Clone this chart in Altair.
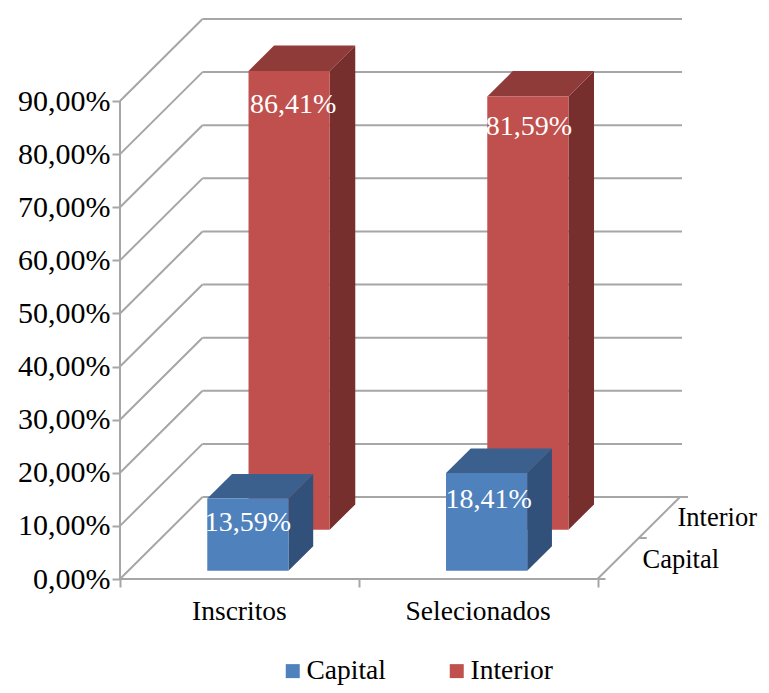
import altair as alt
import pandas as pd

categories = ["Inscritos", "Selecionados"]
series = ["Capital", "Interior"]
capital_values = [13.59, 18.41]
interior_values = [86.41, 81.59]
tick_values = [0, 10, 20, 30, 40, 50, 60, 70, 80, 90]

FONT = "Liberation Serif"
GRID = "#A6A6A6"
FRONT = {"Capital": "#4F81BD", "Interior": "#C0504D"}
TOP = {"Capital": "#3B608D", "Interior": "#8F3B39"}
SIDE = {"Capital": "#31507A", "Interior": "#772F2E"}

# pseudo-3D projection: depth 0..1 shifts both x and y
PX_PER_CAT = 238.75
PX_PER_VAL = 5.311
PLOT_W, PLOT_H = 568, 560
DX = 82.5 / PX_PER_CAT
DY = 82 / PX_PER_VAL
X_MAX = PLOT_W / PX_PER_CAT
Y_MAX = PLOT_H / PX_PER_VAL

SLOT = {"Capital": (0.10, 0.40), "Interior": (0.60, 0.91)}
BAR_LEFT = 0.331
BAR_W = 0.34
LABEL_DROP = {("Capital", 0): 4.6, ("Capital", 1): 5.0, ("Interior", 0): 6.4, ("Interior", 1): 5.7}
LABEL_SHIFT = {("Capital", 0): 0, ("Capital", 1): 2, ("Interior", 0): 4, ("Interior", 1): 1}

xs = alt.Scale(domain=[0, X_MAX], nice=False, zero=False)
ys = alt.Scale(domain=[0, Y_MAX], nice=False, zero=False)

X_AXIS = alt.Axis(values=[0, 1, 2], labels=False, domain=False, grid=False,
                  tickSize=8, tickColor=GRID, tickWidth=2, title=None)
Y_AXIS = alt.Axis(values=tick_values, domain=False, grid=False, tickSize=8,
                  tickColor=GRID, tickWidth=2, labelFont=FONT, labelFontSize=30,
                  labelColor="#000000", labelPadding=2, title=None,
                  labelExpr="replace(format(datum.value, '.2f'), '.', ',') + '%'")


def X(f="x"):
    return alt.X(f"{f}:Q", scale=xs, axis=X_AXIS)


def Y(f="y"):
    return alt.Y(f"{f}:Q", scale=ys, axis=Y_AXIS)


# walls, floor and axis lines
seg = []
for v in tick_values:
    seg.append(dict(x=0, x2=DX, y=v, y2=v + DY))
    seg.append(dict(x=DX, x2=X_MAX - 6 / PX_PER_CAT, y=v + DY, y2=v + DY))
seg.append(dict(x=0, x2=0, y=0, y2=90))
seg.append(dict(x=0, x2=2, y=0, y2=0))
seg.append(dict(x=2, x2=2 + DX, y=0, y2=DY))
# depth-axis ticks
seg.append(dict(x=2, x2=2 + 8 / PX_PER_CAT, y=0, y2=0))
seg.append(dict(x=2 + DX / 2, x2=2 + DX / 2 + 8 / PX_PER_CAT, y=DY / 2, y2=DY / 2))
seg.append(dict(x=2 + DX, x2=2 + DX + 8 / PX_PER_CAT, y=DY, y2=DY))
seg_df = pd.DataFrame(seg)

lines = alt.Chart(seg_df).mark_rule(color=GRID, strokeWidth=2).encode(
    x=X(), x2="x2:Q", y=Y(), y2="y2:Q"
)

layers = [lines]
vals = {"Capital": capital_values, "Interior": interior_values}
color = alt.Color(
    "serie:N",
    scale=alt.Scale(domain=series, range=[FRONT[s] for s in series]),
    legend=alt.Legend(
        title=None, orient="none", legendX=159, legendY=638, direction="horizontal",
        columns=2, columnPadding=57, labelFont=FONT, labelFontSize=27.5, labelColor="#000000",
        symbolType="square", symbolSize=196, symbolStrokeWidth=0, labelOffset=0,
    ),
)
label_rows = []
for s in ["Interior", "Capital"]:
    d0, d1 = SLOT[s]
    front, top, side = [], [], []
    for i, (c, v) in enumerate(zip(categories, vals[s])):
        xl = i + BAR_LEFT
        xr = xl + BAR_W
        fx, fy = d0 * DX, d0 * DY
        bx, by = d1 * DX, d1 * DY
        front.append(dict(x=xl + fx, x2=xr + fx, y=fy, y2=v + fy, serie=s))
        top.append(dict(g=i, y=v + fy, x=xl + fx, x2=xr + fx))
        top.append(dict(g=i, y=v + by, x=xl + bx, x2=xr + bx))
        side.append(dict(g=i, x=xr + fx, y=fy, y2=v + fy))
        side.append(dict(g=i, x=xr + bx, y=by, y2=v + by))
        label_rows.append(dict(x=(xl + xr) / 2 + fx + LABEL_SHIFT[(s, i)] / PX_PER_CAT,
                               y=v + fy - LABEL_DROP[(s, i)],
                               t=f"{v:.2f}".replace(".", ",") + "%"))
    layers.append(alt.Chart(pd.DataFrame(side)).mark_area(color=SIDE[s], orient="vertical").encode(
        x=X(), y=Y(), y2="y2:Q", detail="g:N"))
    layers.append(alt.Chart(pd.DataFrame(top)).mark_area(color=TOP[s], orient="horizontal").encode(
        y=Y(), x=X(), x2="x2:Q", detail="g:N"))
    layers.append(alt.Chart(pd.DataFrame(front)).mark_rect().encode(
        x=X(), x2="x2:Q", y=Y(), y2="y2:Q", color=color))

labels = alt.Chart(pd.DataFrame(label_rows)).mark_text(
    font=FONT, fontSize=28, color="#FFFFFF", align="center", baseline="middle"
).encode(x=X(), y=Y(), text="t:N")
layers.append(labels)

cat_df = pd.DataFrame({"x": [0.5, 1.5], "y": [-33 / PX_PER_VAL] * 2, "t": categories})
layers.append(alt.Chart(cat_df).mark_text(
    font=FONT, fontSize=27.5, color="#000000", align="center", baseline="middle"
).encode(x=X(), y=Y(), text="t:N"))

depth_df = pd.DataFrame({
    "x": [2 + 45 / PX_PER_CAT, 2 + 80 / PX_PER_CAT],
    "y": [19 / PX_PER_VAL, 61 / PX_PER_VAL],
    "t": series,
})
layers.append(alt.Chart(depth_df).mark_text(
    font=FONT, fontSize=26.5, color="#000000", align="left", baseline="middle"
).encode(x=X(), y=Y(), text="t:N"))

chart = alt.layer(*layers).properties(
    width=PLOT_W, height=PLOT_H,
    autosize=alt.AutoSizeParams(type="none"),
    padding={"left": 112, "top": 11, "right": 73, "bottom": 106},
).configure_view(stroke=None)

chart.save("out.html", embed_options={"renderer": "svg", "actions": False})
